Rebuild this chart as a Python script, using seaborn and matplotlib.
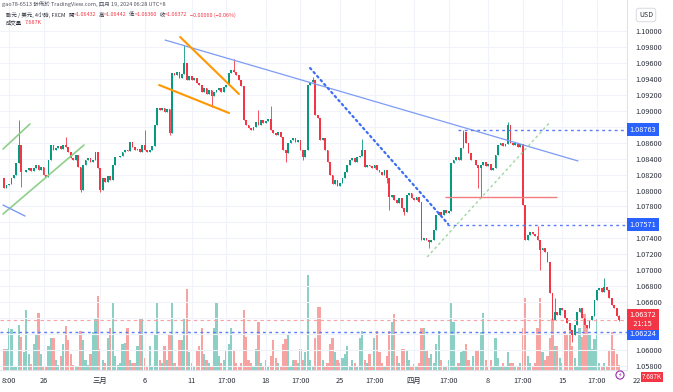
import numpy as np
import pandas as pd
import matplotlib
matplotlib.use('Agg')
import matplotlib.pyplot as plt
import matplotlib.transforms as mtransforms
import seaborn as sns

# EUR/USD 4h candles (FXCM), one close per bar
first_open = 1.0816
closes = [
    1.0803, 1.0807, 1.0808, 1.0816, 1.0820, 1.0835, 1.0857, 1.0823, 1.0823, 1.0826,
    1.0828, 1.0825, 1.0828, 1.0832, 1.0826, 1.0830, 1.0820, 1.0817, 1.0838, 1.0857,
    1.0851, 1.0853, 1.0856, 1.0852, 1.0857, 1.0855, 1.0848, 1.0841, 1.0838, 1.0845,
    1.0830, 1.0801, 1.0832, 1.0838, 1.0841, 1.0836, 1.0838, 1.0848, 1.0828, 1.0801,
    1.0816, 1.0811, 1.0818, 1.0813, 1.0832, 1.0842, 1.0842, 1.0843, 1.0848, 1.0851,
    1.0850, 1.0861, 1.0855, 1.0851, 1.0852, 1.0848, 1.0857, 1.0851, 1.0848, 1.0851,
    1.0856, 1.0882, 1.0904, 1.0901, 1.0904, 1.0899, 1.0902, 1.0872, 1.0947, 1.0945,
    1.0949, 1.0941, 1.0946, 1.0960, 1.0939, 1.0944, 1.0939, 1.0941, 1.0935, 1.0932,
    1.0924, 1.0929, 1.0921, 1.0926, 1.0918, 1.0924, 1.0926, 1.0929, 1.0924, 1.0930,
    1.0932, 1.0947, 1.0951, 1.0949, 1.0945, 1.0939, 1.0931, 1.0888, 1.0882, 1.0878,
    1.0876, 1.0880, 1.0886, 1.0882, 1.0888, 1.0885, 1.0887, 1.0890, 1.0876, 1.0872,
    1.0870, 1.0873, 1.0867, 1.0851, 1.0847, 1.0860, 1.0863, 1.0866, 1.0861, 1.0863,
    1.0851, 1.0842, 1.0851, 1.0932, 1.0936, 1.0939, 1.0895, 1.0891, 1.0863, 1.0866,
    1.0851, 1.0836, 1.0820, 1.0808, 1.0813, 1.0806, 1.0809, 1.0816, 1.0823, 1.0832,
    1.0838, 1.0841, 1.0836, 1.0842, 1.0843, 1.0851, 1.0830, 1.0832, 1.0831, 1.0828,
    1.0832, 1.0826, 1.0823, 1.0820, 1.0826, 1.0816, 1.0792, 1.0794, 1.0788, 1.0784,
    1.0791, 1.0778, 1.0773, 1.0794, 1.0797, 1.0791, 1.0788, 1.0792, 1.0786, 1.0738,
    1.0741, 1.0738, 1.0735, 1.0738, 1.0751, 1.0769, 1.0773, 1.0769, 1.0776, 1.0772,
    1.0774, 1.0835, 1.0838, 1.0842, 1.0838, 1.0853, 1.0873, 1.0860, 1.0847, 1.0838,
    1.0838, 1.0832, 1.0828, 1.0832, 1.0836, 1.0831, 1.0833, 1.0826, 1.0828, 1.0845,
    1.0857, 1.0860, 1.0856, 1.0858, 1.0882, 1.0860, 1.0857, 1.0860, 1.0855, 1.0858,
    1.0782, 1.0738, 1.0744, 1.0748, 1.0746, 1.0743, 1.0738, 1.0725, 1.0728, 1.0723,
    1.0710, 1.0671, 1.0638, 1.0648, 1.0644, 1.0653, 1.0650, 1.0640, 1.0634, 1.0625,
    1.0619, 1.0631, 1.0648, 1.0653, 1.0640, 1.0631, 1.0628, 1.0638, 1.0643, 1.0663,
    1.0675, 1.0678, 1.0673, 1.0679, 1.0675, 1.0665, 1.0656, 1.0653, 1.06432, 1.06372,
]
# only the wicks that stick out clearly
wick_highs = {6: 1.0888, 25: 1.0867, 57: 1.0876, 73: 1.0982, 93: 1.0965, 103: 1.0901,
              108: 1.0906, 125: 1.0942, 145: 1.0865, 186: 1.0876, 204: 1.0886,
              216: 1.0756, 223: 1.0665, 243: 1.0690, 249: 1.06442}
wick_lows = {7: 1.0804, 31: 1.0798, 39: 1.0798, 67: 1.0870, 84: 1.0905, 114: 1.0836,
             121: 1.0838, 155: 1.0810, 156: 1.0775, 162: 1.0769, 172: 1.0728,
             192: 1.0803, 193: 1.0792, 217: 1.0700, 230: 1.0610, 249: 1.06360}
volumes_k = [
    36, 36, 70, 68, 6, 6, 76, 56, 30, 100, 26, 10, 44, 60, 96, 26, 6, 6, 40, 54,
    54, 16, 8, 24, 44, 74, 50, 26, 8, 6, 6, 66, 50, 16, 8, 26, 64, 86, 124, 36,
    16, 12, 54, 70, 114, 24, 8, 12, 44, 46, 70, 16, 12, 12, 40, 86, 86, 20, 6, 40,
    6, 60, 114, 16, 12, 40, 16, 60, 114, 12, 6, 50, 50, 86, 136, 30, 12, 6, 32, 40,
    70, 26, 16, 12, 6, 70, 114, 24, 12, 16, 32, 44, 70, 32, 12, 6, 12, 100, 56, 16,
    12, 6, 36, 80, 12, 6, 16, 6, 24, 50, 20, 12, 6, 44, 52, 60, 6, 16, 16, 12,
    36, 16, 30, 160, 16, 6, 54, 106, 106, 16, 6, 12, 44, 54, 30, 16, 12, 20, 26, 40,
    6, 16, 12, 6, 54, 66, 16, 12, 26, 6, 54, 66, 30, 12, 6, 24, 66, 80, 94, 24,
    12, 36, 36, 32, 16, 6, 10, 6, 12, 70, 70, 32, 20, 26, 12, 44, 66, 16, 6, 6,
    16, 114, 80, 6, 12, 30, 32, 44, 16, 6, 24, 32, 32, 64, 96, 16, 6, 16, 6, 54,
    20, 6, 12, 6, 30, 12, 12, 6, 6, 12, 70, 120, 24, 12, 6, 12, 70, 120, 30, 16,
    24, 54, 86, 40, 40, 20, 12, 66, 60, 72, 40, 20, 6, 70, 56, 94, 72, 60, 36, 52,
    86, 12, 6, 12, 6, 32, 64, 36, 26, 7.687,
]

# time axis
tick_bars = [2, 16, 39, 57, 76, 90, 106, 120, 136, 150, 166, 180, 196, 210, 226, 240]
tick_labels = ['8:00', '26', '三月', '6', '11', '17:00', '18', '17:00', '25', '17:00',
               '四月', '17:00', '8', '17:00', '15', '17:00']
last_tick_bar, last_tick_label = 256, '22'

price_ticks = [1.058, 1.060, 1.062, 1.064, 1.066, 1.068, 1.070, 1.072, 1.074, 1.076, 1.078,
               1.080, 1.082, 1.084, 1.086, 1.088, 1.090, 1.092, 1.094, 1.096, 1.098, 1.100]
hidden_ticks = [1.062, 1.064, 1.076, 1.088]

# user drawings: (bar, price) end points
trend_blue = ([65.2, 232.4], [1.09887, 1.0837])
trend_blue_dots = ([123.9, 179.8], [1.09536, 1.0758])
trend_green_dots = ([171.3, 221.1], [1.07166, 1.08859])
wedge_top = ([71.3, 95.1], [1.09925, 1.0921])
wedge_bottom = ([62.8, 91.1], [1.09323, 1.08972])
channel_top = ([-0.4, 10.5], [1.0852, 1.08834])
channel_bottom = ([-0.4, 32.4], [1.07705, 1.08571])
blue_stub = ([-0.4, 8.5], [1.07818, 1.0768])
red_level = ([178.5, 223.9], 1.07919)
level_high = (183.8, 1.08763)
level_mid = (179.4, 1.07571)
level_low = 1.06224
last_price = 1.06372
last_volume = '7.687K'

UP, DOWN = '#089981', '#f23645'
UP_VOL, DOWN_VOL = '#8ccfc5', '#f7a3a1'
TXT = '#2a2e39'

df = pd.DataFrame({'close': closes, 'volume': volumes_k})
df['bar'] = np.arange(len(df))
df['open'] = [first_open] + closes[:-1]
df['high'] = df[['open', 'close']].max(axis=1)
df['low'] = df[['open', 'close']].min(axis=1)
for k, v in wick_highs.items():
    df.loc[k, 'high'] = v
for k, v in wick_lows.items():
    df.loc[k, 'low'] = v
df.loc[len(df) - 1, 'open'] = 1.06432
df['dir'] = np.where(df['close'] >= df['open'], 'up', 'down')

sns.set_theme(style='white')
plt.rcParams['font.family'] = ['Noto Sans CJK TC', 'DejaVu Sans']

W, H = 673, 392
fig = plt.figure(figsize=(W / 100, H / 100), dpi=100)
ax = fig.add_axes([0, 22 / H, 627 / W, 370 / H])
axv = ax.twinx()

# volume overlay at the bottom
sns.barplot(data=df, x='bar', y='volume', hue='dir', native_scale=True, dodge=False,
            palette={'up': UP_VOL, 'down': DOWN_VOL}, width=0.9, linewidth=0,
            saturation=1, legend=False, ax=axv)
axv.set_ylim(0, 620)
axv.set_yticks([])
axv.set_ylabel('')
axv.set_xlabel('')
for s in axv.spines.values():
    s.set_visible(False)
ax.set_zorder(axv.get_zorder() + 1)
ax.patch.set_visible(False)

# candles
cols = np.where(df['dir'] == 'up', UP, DOWN)
ax.vlines(df['bar'], df['low'], df['high'], colors=cols, lw=0.6, zorder=3)
body = (df['close'] - df['open']).abs().clip(lower=0.00004)
ax.bar(df['bar'], body, bottom=df[['open', 'close']].min(axis=1), width=0.72,
       color=cols, linewidth=0, zorder=4)

# drawings
ax.plot(*trend_blue, color='#7d9bf5', lw=0.9, zorder=5)
ax.plot(*trend_blue_dots, color='#3d6ef5', lw=1.6, ls=(0, (0.8, 1.6)),
        dash_capstyle='round', zorder=5)
ax.plot(*trend_green_dots, color='#9fd79f', lw=1.0, ls=(0, (2, 2)), zorder=5)
ax.plot(*wedge_top, color='#ff9800', lw=1.5, zorder=5)
ax.plot(*wedge_bottom, color='#ff9800', lw=1.5, zorder=5)
ax.plot(*channel_top, color='#8fcf8a', lw=1.2, zorder=5)
ax.plot(*channel_bottom, color='#8fcf8a', lw=1.2, zorder=5)
ax.plot(*blue_stub, color='#7d9bf5', lw=1.0, zorder=5)
ax.hlines(red_level[1], *red_level[0], color='#f47c80', lw=1.0, zorder=5)

xmin, xmax = -1.62, 252.2
ax.hlines(level_high[1], level_high[0], xmax, color='#5b7cfa', lw=1.0, ls=(0, (2, 2.5)), zorder=5)
ax.hlines(level_mid[1], level_mid[0], xmax, color='#5b7cfa', lw=1.0, ls=(0, (2, 2.5)), zorder=5)
ax.axhline(level_low, color='#5b7cfa', lw=1.0, ls=(0, (2, 2.5)), zorder=5)
ax.axhline(last_price, color='#f7a1a3', lw=0.8, ls=(0, (3, 3)), zorder=5)

ax.set_xlim(xmin, xmax)
ax.set_ylim(1.05749, 1.10389)

ax.grid(True, color='#f0f3fa', lw=0.8)
ax.set_axisbelow(True)
ax.yaxis.tick_right()
ax.set_yticks(price_ticks)
ax.set_yticklabels(['' if any(abs(t - h) < 1e-9 for h in hidden_ticks) else f'{t:.5f}'
                    for t in price_ticks])
ax.set_xticks(tick_bars)
ax.set_xticklabels(tick_labels)
ax.tick_params(axis='y', length=0, pad=6, labelsize=5.3, labelcolor=TXT)
ax.tick_params(axis='x', length=0, pad=5, labelsize=5.3, labelcolor=TXT)
trans_x = mtransforms.blended_transform_factory(ax.transData, ax.transAxes)
ax.text(last_tick_bar, -0.03, last_tick_label, transform=trans_x, ha='center', va='center',
        fontsize=5.3, color=TXT, clip_on=False)
for name, s in ax.spines.items():
    s.set_visible(name in ('right', 'bottom'))
    s.set_color('#e0e3eb')
    s.set_linewidth(0.8)


def price_tag(price, text, color):
    ax.annotate(text, xy=(1, price), xycoords=('axes fraction', 'data'), xytext=(2, 0),
                textcoords='offset points', ha='left', va='center', fontsize=5.3,
                color='white', linespacing=1.1,
                bbox=dict(boxstyle='square,pad=0.35', fc=color, ec='none'), zorder=10)


price_tag(level_high[1], '1.08763', '#2962ff')
price_tag(level_mid[1], '1.07571', '#2962ff')
price_tag(level_low - 0.0002, '1.06224', '#2962ff')
price_tag(last_price + 0.0001, '1.06372\n  21:15', DOWN)

# volume tag, USD box, alert icon
fig.text(652 / W, 1 - 377 / H, last_volume, ha='center', va='center', fontsize=4.6,
         color='white', bbox=dict(boxstyle='square,pad=0.2', fc=DOWN, ec='none'))
fig.text(646 / W, 1 - 15 / H, 'USD', ha='center', va='center', fontsize=5, color=TXT,
         bbox=dict(boxstyle='round,pad=0.4', fc='white', ec='#d1d4dc', lw=0.6))
fig.text(620 / W, 1 - 375 / H, '⚡', ha='center', va='center', fontsize=4.5,
         color='#9c27b0', family='DejaVu Sans',
         bbox=dict(boxstyle='circle,pad=0.25', fc='white', ec='#9c27b0', lw=0.8))

# header, pieces laid out one after the other
renderer = fig.canvas.get_renderer()


def text_row(x, y, pieces, size):
    for t, c, gap in pieces:
        txt = fig.text(x / W, 1 - y / H, t, ha='left', va='center', fontsize=size, color=c)
        x += txt.get_window_extent(renderer).width + gap


text_row(2, 4, [('gao78-6513 發佈於 TradingView.com, 四月 19, 2024 06:28 UTC+8', '#50535e', 0)], 4.0)
text_row(6, 15, [('歐元 / 美元, 4小時, FXCM', TXT, 3),
                 ('開', TXT, 0), ('=1.06432', DOWN, 2.5),
                 ('高', TXT, 0), ('=1.06442', DOWN, 2.5),
                 ('低', TXT, 0), ('=1.06360', DOWN, 2.5),
                 ('收', TXT, 0), ('=1.06372', DOWN, 2.5),
                 ('−0.00060 (−0.06%)', DOWN, 0)], 3.9)
text_row(6, 23, [('成交量', TXT, 3), (last_volume, DOWN, 0)], 3.9)

fig.savefig('out.png', dpi=100, facecolor='white')
